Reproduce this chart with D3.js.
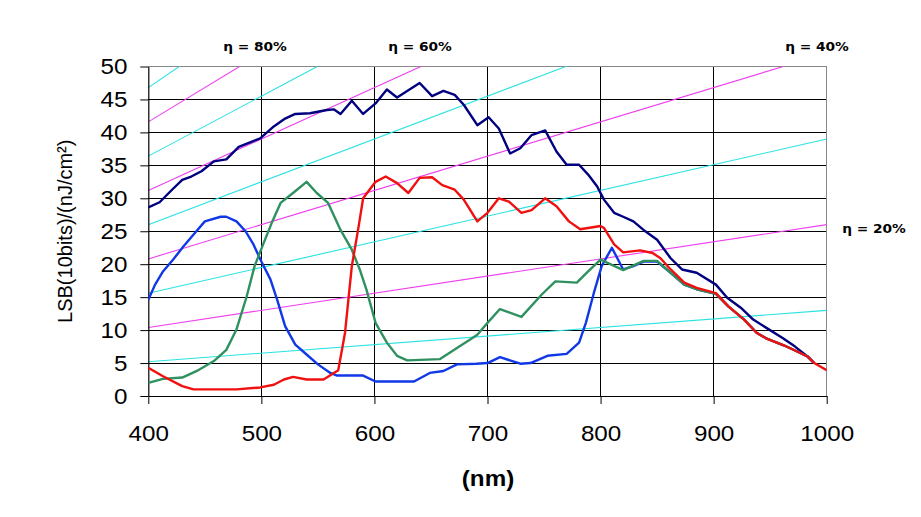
<!DOCTYPE html>
<html>
<head>
<meta charset="utf-8">
<script src="https://cdn.jsdelivr.net/npm/d3@7/dist/d3.min.js"></script>
<style>
  html, body { margin: 0; padding: 0; background: #fff; }
  svg { display: block; }
</style>
</head>
<body>
<svg id="chart" width="921" height="517"></svg>
<script>
// ---------- data ----------
const xTicks = [400, 500, 600, 700, 800, 900, 1000];
const yTicks = [0, 5, 10, 15, 20, 25, 30, 35, 40, 45, 50];

// iso-efficiency lines (value at 400 nm and at 1000 nm)
const etaLevels = [10, 20, 30, 40, 50, 60, 70, 80, 90];
const etaAt400  = [5.2, 10.4, 15.6, 20.8, 26.0, 31.2, 36.4, 41.6, 46.8];
const etaAt1000 = [13.0, 26.0, 39.0, 52.0, 65.0, 78.0, 91.0, 104.0, 117.0];
const etaLabels = ["η = 80%", "η = 60%", "η = 40%", "η = 20%"];

const navyWl = [400,410,421,430,438,447,458,469,480,490,499,511,521,530,543,558,564,570,580,590,601,611,620,630,640,651,661,671,679,691,701,710,720,729,739,751,761,770,781,789,797,803,812,820,829,838,850,862,872,885,902,912,924,935,947,961,972,983,989];
const navyV  = [28.6,29.4,31.3,32.8,33.3,34.1,35.6,35.9,37.8,38.5,39.1,40.9,42.1,42.8,42.9,43.4,43.5,42.8,44.8,42.8,44.4,46.5,45.3,46.4,47.5,45.5,46.3,45.7,44.2,41.1,42.3,40.6,36.8,37.6,39.6,40.3,37.1,35.1,35.1,33.6,31.8,29.8,27.8,27.2,26.5,25.2,23.7,20.9,19.2,18.7,16.9,14.9,13.4,11.6,10.3,8.8,7.5,6.0,5.0];

const blueWl = [400,406,413,422,431,441,450,464,469,478,486,493,500,508,514,521,530,540,550,561,567,590,601,635,649,661,673,690,700,711,729,738,753,770,781,787,794,801,810,820,829,838,850,862,874,885,902,913,927,938,947,962,972,983,989];
const blueV  = [14.6,16.9,18.9,20.7,22.7,24.7,26.5,27.2,27.2,26.5,25.0,23.0,20.4,17.7,14.6,10.6,7.8,6.3,4.8,3.5,3.1,3.1,2.2,2.2,3.5,3.8,4.8,4.9,5.0,5.9,4.9,5.0,6.1,6.4,8.1,11.1,15.6,19.7,22.5,19.2,19.7,20.4,20.4,18.7,16.9,16.2,15.5,13.6,11.6,9.6,8.7,7.7,6.9,6.0,5.0];

const greenWl = [400,413,430,443,458,469,478,487,494,502,509,517,528,540,549,559,570,580,587,593,601,611,620,629,658,673,685,691,700,711,730,748,760,779,789,800,810,820,838,850,862,874,885,902,913,927,938,947,962,972,983,989];
const greenV  = [2.0,2.6,2.8,3.8,5.3,7.0,10.1,15.1,19.7,23.2,26.2,29.3,30.8,32.5,30.8,29.3,25.2,22.2,19.2,16.1,11.1,8.1,6.1,5.4,5.6,7.3,8.6,9.3,11.1,13.2,12.0,15.4,17.4,17.2,18.9,20.7,19.9,19.1,20.5,20.5,18.7,16.9,16.2,15.5,13.6,11.6,9.6,8.7,7.7,6.9,6.0,5.0];

const redWl = [400,413,430,440,478,499,511,520,528,540,555,568,574,580,586,590,601,610,620,630,640,651,660,671,679,691,700,710,719,730,739,751,761,772,782,800,803,812,820,835,846,853,862,874,885,902,913,927,938,947,962,972,983,989,1000];
const redV  = [4.3,3.0,1.5,1.0,1.0,1.3,1.7,2.5,2.9,2.5,2.5,3.9,9.6,19.7,25.7,30.0,32.5,33.3,32.3,30.8,33.1,33.2,32.0,31.3,29.8,26.5,27.8,30.0,29.5,27.8,28.2,30.0,28.8,26.5,25.3,25.8,25.5,23.0,21.8,22.1,21.7,20.9,19.2,17.2,16.4,15.6,13.6,11.6,9.6,8.7,7.7,6.9,6.0,5.0,3.9];

const seriesList = [
  { wl: navyWl,  v: navyV,  color: "#000080" },
  { wl: blueWl,  v: blueV,  color: "#1038e6" },
  { wl: greenWl, v: greenV, color: "#2f9160" },
  { wl: redWl,   v: redV,   color: "#f01010" }
];

// ---------- layout ----------
const plot = { left: 148.3, right: 826.7, top: 66.5, bottom: 396 };
const svg = d3.select("#chart");
const x = d3.scaleLinear().domain([400, 1000]).range([plot.left, plot.right]);
const y = d3.scaleLinear().domain([0, 50]).range([plot.bottom, plot.top]);
const SX = 1.1; // horizontal text stretch seen in the picture
const font = "'Liberation Sans', Arial, sans-serif";

svg.append("defs").append("clipPath").attr("id", "clip")
  .append("rect")
  .attr("x", plot.left).attr("y", plot.top)
  .attr("width", plot.right - plot.left).attr("height", plot.bottom - plot.top);

// gridlines
const grid = svg.append("g");
grid.selectAll("line.h").data(yTicks.filter(d => d > 0 && d < 50)).enter().append("line")
  .attr("x1", plot.left).attr("x2", plot.right)
  .attr("y1", d => y(d)).attr("y2", d => y(d))
  .attr("stroke", "#000").attr("stroke-width", 1).attr("shape-rendering", "crispEdges");
grid.selectAll("line.v").data(xTicks.filter(d => d > 400 && d < 1000)).enter().append("line")
  .attr("y1", plot.top).attr("y2", plot.bottom)
  .attr("x1", d => x(d)).attr("x2", d => x(d))
  .attr("stroke", "#000").attr("stroke-width", 1).attr("shape-rendering", "crispEdges");

// border (top & right gray)
svg.append("path")
  .attr("d", `M${plot.left},${plot.top}H${plot.right}V${plot.bottom}`)
  .attr("fill", "none").attr("stroke", "#888").attr("stroke-width", 1.2)
  .attr("shape-rendering", "crispEdges");

// efficiency lines
const effG = svg.append("g").attr("clip-path", "url(#clip)");
etaLevels.forEach((lvl, i) => {
  effG.append("line")
    .attr("x1", x(400)).attr("y1", y(etaAt400[i]))
    .attr("x2", x(1000)).attr("y2", y(etaAt1000[i]))
    .attr("stroke", (lvl / 10) % 2 === 1 ? "#2ae2e2" : "#ee40ee")
    .attr("stroke-width", 1.1);
});

// axes
const yAxis = svg.append("g").attr("transform", `translate(${plot.left},0)`)
  .call(d3.axisLeft(y).tickValues(yTicks).tickFormat(d3.format("d")).tickSize(8).tickPadding(11).tickSizeOuter(0));
const xAxis = svg.append("g").attr("transform", `translate(0,${plot.bottom})`)
  .call(d3.axisBottom(x).tickValues(xTicks).tickFormat(d3.format("d")).tickSize(8).tickPadding(21).tickSizeOuter(0));
[yAxis, xAxis].forEach(a => {
  a.select(".domain").attr("stroke", "#000").attr("stroke-width", 1.2);
  a.selectAll(".tick line").attr("stroke", "#000");
  a.selectAll("text").attr("font-family", font).attr("font-size", 22).attr("fill", "#000")
    .attr("transform", `scale(${SX},1)`);
});

// curves
const line = d3.line().x(d => x(d[0])).y(d => y(d[1]));
const curveG = svg.append("g").attr("clip-path", "url(#clip)");
seriesList.forEach(s => {
  curveG.append("path")
    .datum(s.wl.map((w, i) => [w, s.v[i]]))
    .attr("d", line)
    .attr("fill", "none").attr("stroke", s.color)
    .attr("stroke-width", 2.4).attr("stroke-linejoin", "round");
});

// eta labels
const labelPos = [[255, 51], [420, 51], [817, 51], [874, 233]];
etaLabels.forEach((t, i) => {
  svg.append("text")
    .attr("transform", `translate(${labelPos[i][0]},${labelPos[i][1]}) scale(${SX},1)`)
    .attr("text-anchor", "middle")
    .attr("font-family", "'DejaVu Sans', Verdana, sans-serif")
    .attr("font-weight", "bold").attr("font-size", 12.5)
    .text(t);
});

// axis titles
svg.append("text")
  .attr("transform", `translate(72,${(plot.top + plot.bottom) / 2}) rotate(-90)`)
  .attr("text-anchor", "middle")
  .attr("font-family", font).attr("font-size", 20)
  .text("LSB(10bits)/(nJ/cm²)");
svg.append("text")
  .attr("transform", `translate(488,486) scale(${SX},1)`)
  .attr("text-anchor", "middle")
  .attr("font-family", font).attr("font-weight", "bold").attr("font-size", 22)
  .text("(nm)");
</script>
</body>
</html>
